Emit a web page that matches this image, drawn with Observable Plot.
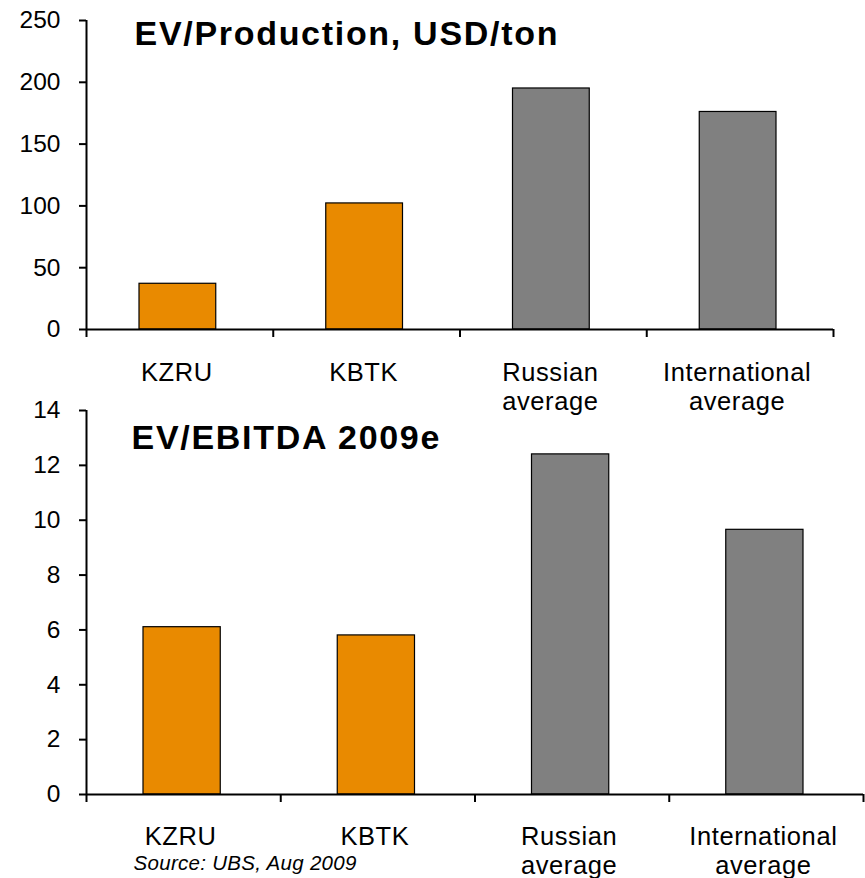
<!DOCTYPE html>
<html>
<head>
<meta charset="utf-8">
<script src="https://cdn.jsdelivr.net/npm/d3@7"></script>
<script src="https://cdn.jsdelivr.net/npm/@observablehq/plot@0.6"></script>
<style>
  html, body { margin: 0; padding: 0; background: #fff; }
  #wrap { position: relative; width: 865px; height: 878px; background: #fff; }
  .ttl text, text.ttl { letter-spacing: 1.7px; }
  .cat text, text.cat { letter-spacing: 0.6px; }
  .src text, text.src { letter-spacing: 0.3px; }
</style>
</head>
<body>
<div id="wrap"></div>
<script>
// ---- data ----
const categories = ["KZRU", "KBTK", "Russian average", "International average"];
const groups = ["company", "company", "peer", "peer"];
const evProduction = [37, 102, 195, 176];
const evEbitda = [6.1, 5.8, 12.4, 9.65];
const prodTicks = [0, 50, 100, 150, 200, 250];
const ebitdaTicks = [0, 2, 4, 6, 8, 10, 12, 14];
const titleTop = "EV/Production, USD/ton";
const titleBottom = "EV/EBITDA 2009e";
const sourceNote = "Source: UBS, Aug 2009";

const FONT = "'Liberation Sans', Arial, Helvetica, sans-serif";
const colorScale = {domain: ["company", "peer"], range: ["#E98A00", "#808080"]};
const boundaries = categories.map((d, i) => i).concat([categories.length]);
const centers = categories.map((d, i) => i + 0.5);
const labelFor = t => categories[Math.floor(t)].replace(" ", "\n");

function panel({values, ticks, top, height, marginTop, marginBottom, marginRight, insetL, insetR, title, titleDx, titleDy, labelPad, labelDx, extra = []}) {
  const rows = categories.map((c, i) => ({i, c, value: values[i], group: groups[i]}));
  const yMax = ticks[ticks.length - 1];
  const p = Plot.plot({
    width: 865,
    height,
    marginTop,
    marginBottom,
    marginLeft: 86,
    marginRight,
    style: {background: "transparent", overflow: "visible", fontFamily: FONT, color: "#000"},
    x: {domain: [0, categories.length]},
    y: {domain: [0, yMax]},
    color: colorScale,
    marks: [
      Plot.rectY(rows, {x1: "i", x2: d => d.i + 1, y: "value", fill: "group", stroke: "#000", strokeWidth: 1.2, insetLeft: insetL, insetRight: insetR}),
      Plot.ruleX([0], {y1: 0, y2: yMax, stroke: "#000", strokeWidth: 2}),
      Plot.ruleY([0], {stroke: "#000", strokeWidth: 2}),
      Plot.axisY({ticks, tickSize: 7, tickPadding: 19, fontSize: 24.5, strokeWidth: 2, label: null, fill: "#000"}),
      Plot.axisX({ticks: boundaries, tickSize: 8, tickFormat: () => "", strokeWidth: 2, label: null}),
      Plot.axisX({ticks: centers, tickSize: 0, tickPadding: labelPad, tickFormat: labelFor, fontSize: 25.5, lineHeight: 1.14, dx: labelDx, label: null, fill: "#000", className: "cat"}),
      Plot.text([title], {frameAnchor: "top-left", textAnchor: "start", lineAnchor: "top", dx: titleDx, dy: titleDy, fontSize: 34, fontWeight: "bold", fill: "#000", className: "ttl"}),
      ...extra
    ]
  });
  p.style.position = "absolute";
  p.style.top = top + "px";
  p.style.left = "0px";
  return p;
}

const wrap = document.getElementById("wrap");
wrap.appendChild(panel({
  values: evProduction, ticks: prodTicks, top: 0, height: 420,
  marginTop: 20, marginBottom: 91, marginRight: 32,
  insetL: 53, insetR: 57, title: titleTop, titleDx: 48, titleDy: 0, labelPad: 31, labelDx: -3
}));
wrap.appendChild(panel({
  values: evEbitda, ticks: ebitdaTicks, top: 380, height: 498,
  marginTop: 30, marginBottom: 84, marginRight: 2,
  insetL: 57, insetR: 60, title: titleBottom, titleDx: 45, titleDy: 14, labelPad: 30, labelDx: -3,
  extra: [Plot.text([sourceNote], {frameAnchor: "bottom-left", textAnchor: "start", lineAnchor: "bottom", dx: 47, dy: 75, fontSize: 20.5, fontStyle: "italic", fill: "#000", className: "src"})]
}));
</script>
</body>
</html>
